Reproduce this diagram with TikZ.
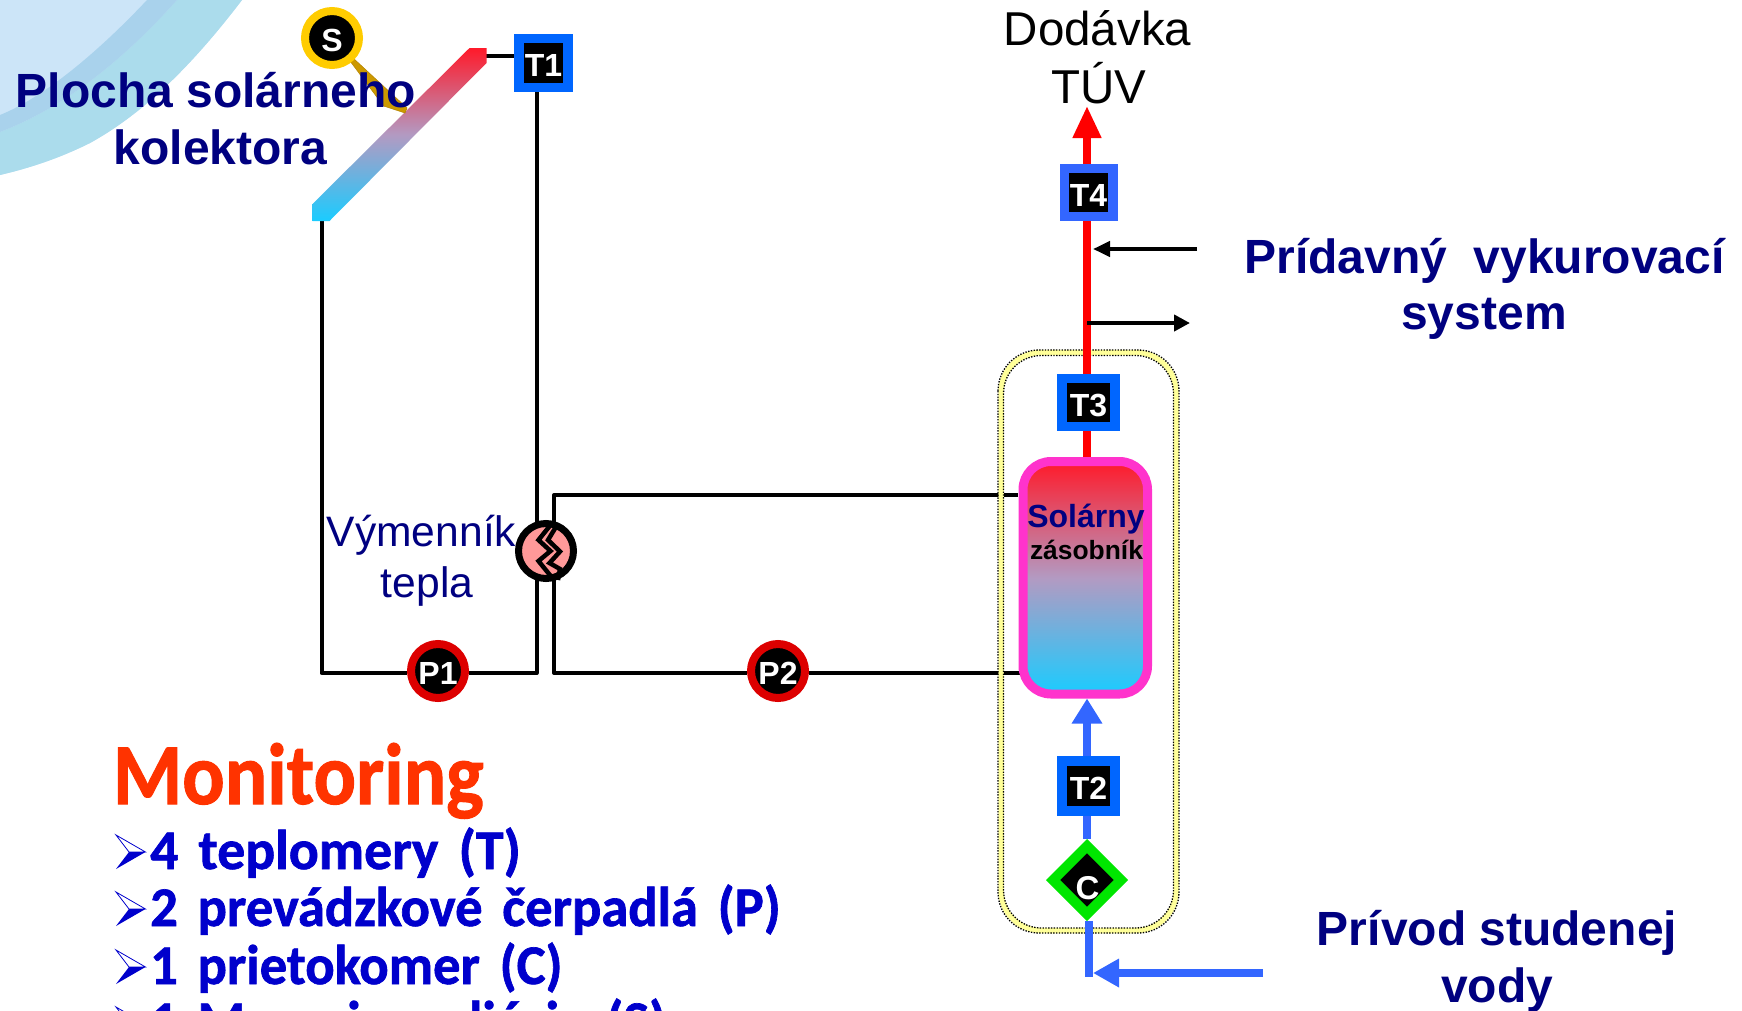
\documentclass[tikz,border=0pt]{standalone}
\usepackage{fontspec}
\setmainfont{Liberation Sans}
\newfontfamily\rounded[BoldFont={Carlito Bold},BoldFeatures={FakeBold=1.2},WordSpace=1.6]{Carlito}
\usetikzlibrary{arrows.meta,shapes.geometric}
\pgfdeclarelayer{under}
\pgfsetlayers{under,main}
\newcommand{\fsz}[1]{\fontsize{#1pt}{#1pt}\selectfont}
\definecolor{navyt}{HTML}{000080}
\definecolor{sblue}{HTML}{3366FF}
\definecolor{tblue}{HTML}{0066FF}
\definecolor{mblue}{HTML}{0000CC}
\definecolor{pink}{HTML}{FF33CC}
\definecolor{gold}{HTML}{FFCC00}
\definecolor{rust}{HTML}{CC9900}
\definecolor{rustedge}{HTML}{B48200}
\definecolor{pumpred}{HTML}{DD0000}
\definecolor{hot}{HTML}{FF1A2A}
\definecolor{cold}{HTML}{1ACCFF}
\definecolor{midtone}{HTML}{B39AC2}
\definecolor{hxpink}{HTML}{FF9999}
\definecolor{flowgreen}{HTML}{00E600}
\definecolor{insul}{HTML}{FFFF99}
\definecolor{swa}{HTML}{CCE5F8}
\definecolor{swb}{HTML}{ABDCEC}
\definecolor{swc}{HTML}{A9D2EC}
\definecolor{monred}{HTML}{FF3300}
\tikzset{
  x=1pt,y=-1pt,
  txt/.style={inner sep=0pt,outer sep=0pt,anchor=base},
  headb/.style={txt,font=\fsz{48}\bfseries,text=navyt},
  headr/.style={txt,font=\fsz{42.6},text=navyt},
  plainr/.style={txt,font=\fsz{47.5},text=black},
  tag/.style={inner sep=0pt,text=white,font=\fsz{32}\bfseries,text height=27pt,text depth=0pt},
  tempbox/.style={tag,rectangle,draw=tblue,fill=black,line width=9.5pt,minimum width=53pt,minimum height=49pt},
  pumpdot/.style={tag,circle,draw=pumpred,fill=black,line width=8pt,minimum size=54pt},
  sundot/.style={tag,circle,draw=gold,fill=black,line width=8pt,minimum size=54pt},
  pipe/.style={line width=4pt,black,line cap=butt,line join=round},
  hotpipe/.style={line width=7.5pt,red},
  coldpipe/.style={line width=7.5pt,sblue},
  thermal/.style={top color=hot,bottom color=cold,middle color=midtone},
  listtxt/.style={inner sep=0pt,anchor=base west,font=\rounded\fsz{56}\bfseries,text=mblue,xscale=.975,transform shape},
}
\newcommand{\listmark}[1]{%
  \fill[mblue] (116,#1+17) -- (145.5,#1) -- (129,#1) -- cycle;
  \draw[mblue,line width=.8pt,line join=miter] (116,#1-17) -- (145.5,#1) -- (129,#1) -- cycle;
}
\begin{document}
\begin{tikzpicture}
\useasboundingbox (0,0) rectangle (1742,1010);
\clip (0,0) rectangle (1742,1010);

% nodes
\node[tempbox,minimum width=49pt] (T1) at (543.5,63) {T1};
\node[tempbox,draw=sblue,minimum width=48.5pt,minimum height=48pt] (T4) at (1088.5,192.5) {T4};
\node[tempbox,minimum height=48pt] (T3) at (1088.5,402.5) {T3};
\node[tempbox,minimum height=50pt] (T2) at (1088.5,786) {T2};
\node[pumpdot] (P1) at (438,671) {P1};
\node[pumpdot] (P2) at (778,671) {P2};
\node[sundot] (S) at (332,38) {S};
\node[circle,draw=black,fill=hxpink,line width=7pt,minimum size=55pt,inner sep=0pt] (HX) at (546,551) {};
\node[diamond,draw=flowgreen,fill=black,line width=10pt,minimum size=72pt,inner sep=0pt,aspect=1] (C) at (1087,880) {};
\node[tag,font=\fsz{33}\bfseries,text height=24pt] (Clabel) at (1087.5,887) {C};
\node[rectangle,rounded corners=28pt,draw=pink,line width=9pt,thermal,minimum width=124.5pt,minimum height=232.5pt,inner sep=0pt] (store) at (1085.25,577.75) {};

% named ends
\coordinate (colB) at (321.5,221);
\coordinate (colT) at (486,56);
\coordinate (T1low) at (536.5,92);
\coordinate (loopR) at (536.5,673);
\coordinate (loopL) at (321.5,673);
\coordinate (secTop) at (554,495);
\coordinate (secBot) at (554,673);
\coordinate (storeTop) at (1018,495);
\coordinate (storeBot) at (1022,673);
\coordinate (hxLow) at (554,575);
\coordinate (hxHigh) at (554,525);
\coordinate (spine) at (1087,106);
\coordinate (addInA) at (1197,249);
\coordinate (addInB) at (1093,249);
\coordinate (addOutA) at (1087,323);
\coordinate (addOutB) at (1190,323);
\coordinate (coldEnd) at (1089,977);
\coordinate (coldA) at (1263,973);
\coordinate (coldB) at (1093,973);

\begin{pgfonlayer}{under}
  % corner swoosh
  \fill[swa] (0,0) -- (242,0) .. controls (200,55) and (150,110) .. (90,143) .. controls (60,158) and (30,168) .. (0,175) -- cycle;
  \fill[swb] (177,0) -- (242,0) .. controls (200,55) and (150,110) .. (90,143) .. controls (60,158) and (30,168) .. (0,175) -- (0,132) .. controls (50,113) and (110,75) .. cycle;
  \fill[swc] (147,0) -- (177,0) .. controls (110,75) and (50,113) .. (0,132) -- (0,115) .. controls (45,97) and (100,50) .. cycle;

  % black circuits
  \draw[pipe] (colB) -- (loopL) -- (loopL -| P1.west);
  \draw[pipe] (loopR -| P1.east) -- (loopR) -- (T1low);
  \draw[pipe] (colT) -- (colT -| T1.west);
  \draw[pipe] (hxHigh) -- (secTop) -- (storeTop);
  \draw[pipe] (hxLow) -- (secBot) -- (secBot -| P2.west);
  \draw[pipe] (secBot -| P2.east) -- (storeBot);

  % insulation outline
  \draw[line width=5.5pt,insul,rounded corners=40pt] (1001,352.5) rectangle (1176,930.5);
  \draw[line width=1.3pt,black,dash pattern=on 1.4pt off 1.4pt,rounded corners=41pt] (998,350) rectangle (1179,933);
  \draw[line width=1.3pt,black,dash pattern=on 1.4pt off 1.4pt,rounded corners=38pt] (1003.5,355.5) rectangle (1173.5,928);

  % hot and cold lines
  \draw[hotpipe,-{Triangle[length=32pt,width=27pt]}] (T4.north -| spine) -- (spine);
  \draw[hotpipe] (T4.south -| spine) -- (T3.north -| spine);
  \draw[hotpipe] (T3.south -| spine) -- (store.north -| spine);
  \draw[coldpipe,-{Triangle[length=25pt,width=29pt]}] (T2.north -| spine) -- (store.south -| spine);
  \draw[coldpipe] (T2.south -| spine) -- (C.north -| spine);
  \draw[coldpipe] (C.south -| coldEnd) -- (coldEnd);
  \draw[coldpipe,-{Triangle[length=26pt,width=27pt]}] (coldA) -- (coldB);
  \draw[pipe,-{Triangle[length=17pt,width=15pt]}] (addInA) -- (addInB);
  \draw[pipe,-{Triangle[length=16pt,width=16pt]}] (addOutA) -- (addOutB);

  % collector
  \path[thermal] (469.5,48) -- (486.5,48) -- (486.5,63) -- (329.5,221) -- (312.5,221) -- (312.5,204) -- cycle;
  % pointer of sensor S
  \fill[rust,draw=rustedge,line width=.5pt] (352,57) -- (407,108) -- (405,113) -- (383.5,106) -- (350,61) -- cycle;
\end{pgfonlayer}

% exchanger plates
\draw[black,line width=4.5pt,line join=miter] (550.5,525) -- (538.5,540) -- (550.5,551) -- (538.5,561) -- (551.5,577);
\draw[black,line width=4.5pt,line join=miter] (556.5,526) -- (548,540) -- (560,551.5) -- (549.5,563) -- (560,569) -- (558,580);

% labels
\node[headb] (lab1) at (216,107) {Plocha solárneho};
\node[headb] (lab2) at (220.5,164) {kolektora};
\node[plainr] (lab3) at (1097.5,45) {Dodávka};
\node[plainr] (lab4) at (1098.5,103) {TÚV};
\node[headb] (lab5) at (1484.5,273) {Prídavný\ \ vykurovací};
\node[headb] (lab6) at (1484,329) {system};
\node[headb] (lab7) at (1497,945) {Prívod studenej};
\node[headb] (lab8) at (1497,1002) {vody};
\node[headr] (lab9) at (421.5,546) {Výmenník};
\node[headr] (lab10) at (427,597) {tepla};
\node[txt,font=\fsz{32}\bfseries,text=navyt] (lab11) at (1086,527) {Solárny};
\node[txt,font=\fsz{26.4}\bfseries,text=black] (lab12) at (1086.5,559) {zásobník};

% monitoring list
\node[txt,anchor=base west,font=\rounded\fsz{87}\bfseries,text=monred,xscale=.91,transform shape] (mon) at (113,804) {Monitoring};
\listmark{852}\listmark{909}\listmark{967}\listmark{1024}
\node[listtxt,xscale=1.02] (li1) at (150,869) {4 teplomery (T)};
\node[listtxt] (li2) at (150,926) {2 prevádzkové čerpadlá (P)};
\node[listtxt] (li3) at (150,984) {1 prietokomer (C)};
\node[listtxt] (li4) at (150,1040) {1 Meranie radiácie (S)};
\end{tikzpicture}
\end{document}
